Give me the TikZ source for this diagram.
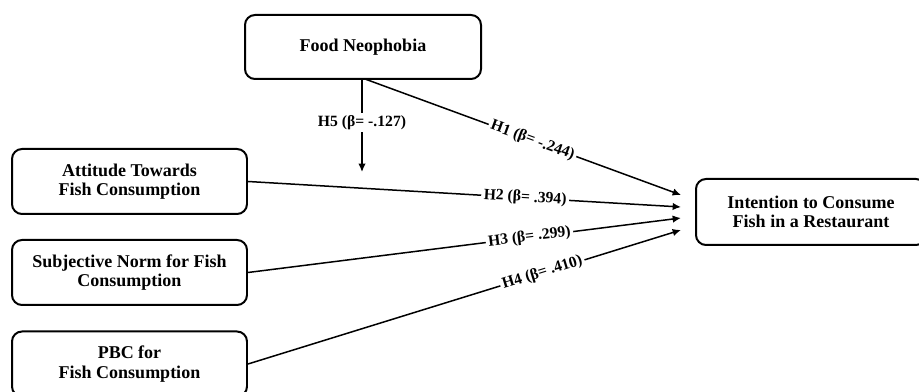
\documentclass[tikz,border=0pt]{standalone}
\usepackage{fontspec}
\setmainfont{Liberation Serif}
\usetikzlibrary{arrows.meta}
\begin{document}
\begin{tikzpicture}[x=0.6pt,y=-0.6pt,
  box/.style={draw=black,line width=1.2pt,rounded corners=6pt,align=center,
    font=\fontsize{10.8}{11.6}\selectfont\bfseries,inner sep=2pt},
  conn/.style={line width=0.9pt,-{Latex[length=5pt,width=4.5pt]}},
  lab/.style={fill=white,inner sep=1.5pt,font=\fontsize{9.4}{10}\selectfont\bfseries}]
\useasboundingbox (0,0) rectangle (919,392);
\clip (0,0) rectangle (919,392);
\node[box,minimum width=141.6pt,minimum height=38.4pt] (fn) at (363,47) {Food Neophobia};
\node[box,minimum width=141pt,minimum height=39pt] (att) at (129.5,181.5) {Attitude Towards\\Fish Consumption};
\node[box,minimum width=141pt,minimum height=39pt] (sub) at (129.5,272.5) {Subjective Norm for Fish\\Consumption};
\node[box,minimum width=141pt,minimum height=39pt] (pbc) at (129.5,364) {PBC for\\Fish Consumption};
\node[box,minimum width=138pt,minimum height=39.6pt] (int) at (811,212) {Intention to Consume\\Fish in a Restaurant};
\coordinate (s5) at (362,79);
\coordinate (t5) at (362,172);
\coordinate (s1) at (365,79);
\coordinate (e1) at (681,195);
\coordinate (e2) at (681,207);
\coordinate (e3) at (681,218);
\coordinate (e4) at (681,230);
\draw[conn] (s5) -- node[lab,pos=0.47] {H5 (β= -.127)} (t5);
\draw[conn] (s1) -- node[lab,sloped,pos=0.53] {H1 (β= -.244)} (e1);
\draw[conn] (att.east) -- node[lab,sloped,pos=0.64] {H2 (β= .394)} (e2);
\draw[conn] (sub.east) -- node[lab,sloped,pos=0.65] {H3 (β= .299)} (e3);
\draw[conn] (pbc.east) -- node[lab,sloped,pos=0.68] {H4 (β= .410)} (e4);
\end{tikzpicture}
\end{document}
